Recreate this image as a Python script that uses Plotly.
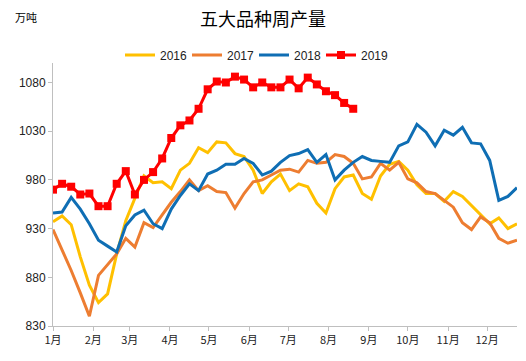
import plotly.graph_objects as go

weeks = list(range(52))
month_start_days = [0, 31, 59, 90, 120, 151, 181, 212, 243, 273, 304, 334]
month_labels = ["1月", "2月", "3月", "4月", "5月", "6月", "7月", "8月", "9月", "10月", "11月", "12月"]

y2016 = [937, 943, 934, 901, 872, 854, 863, 904, 938, 962, 984, 977, 978, 971,
         990, 997, 1013, 1008, 1019, 1018, 1007, 1004, 990, 966, 978, 986, 969,
         976, 973, 956, 946, 971, 983, 985, 966, 960, 984, 996, 999, 990, 975,
         966, 966, 958, 968, 963, 954, 944, 935, 941, 930, 935]
y2017 = [929, 908, 887, 864, 840, 882, 893, 904, 920, 911, 936, 931, 944, 957,
         968, 980, 969, 974, 968, 967, 951, 966, 978, 980, 985, 990, 991, 988,
         1000, 997, 998, 1006, 1004, 997, 981, 983, 997, 990, 998, 981, 977,
         968, 966, 959, 952, 936, 929, 942, 936, 920, 915, 918]
y2018 = [946, 947, 962, 950, 935, 918, 912, 906, 933, 944, 949, 935, 930, 950,
         964, 976, 969, 986, 990, 996, 996, 1002, 997, 985, 989, 998, 1005, 1007,
         1011, 998, 1006, 980, 990, 998, 1004, 1000, 999, 998, 1015, 1019, 1037,
         1029, 1015, 1031, 1026, 1034, 1018, 1017, 1000, 959, 963, 972]
y2019 = [970, 976, 973, 965, 966, 953, 953, 976, 989, 965, 980, 988, 1002, 1023,
         1036, 1041, 1053, 1073, 1081, 1080, 1086, 1083, 1075, 1080, 1075, 1075,
         1083, 1074, 1085, 1078, 1071, 1067, 1059, 1053]

fig = go.Figure()
fig.add_trace(go.Scatter(x=weeks, y=y2016, mode="lines", name="2016",
                         line=dict(color="#FFC000", width=3)))
fig.add_trace(go.Scatter(x=weeks, y=y2017, mode="lines", name="2017",
                         line=dict(color="#ED7D31", width=3)))
fig.add_trace(go.Scatter(x=weeks, y=y2018, mode="lines", name="2018",
                         line=dict(color="#0F6EB4", width=3)))
fig.add_trace(go.Scatter(x=weeks[:len(y2019)], y=y2019, mode="lines+markers", name="2019",
                         line=dict(color="#FF0000", width=3),
                         marker=dict(symbol="square", size=8, color="#FF0000")))

fig.update_layout(
    width=526, height=361,
    margin=dict(l=53, r=9, t=63, b=35, autoexpand=False),
    paper_bgcolor="white", plot_bgcolor="white",
    font=dict(family="Liberation Sans, Arial, sans-serif", size=12, color="#222"),
    title=dict(text="五大品种周产量", x=0.5, xanchor="center", y=1 - 20 / 361, yanchor="middle",
               font=dict(family="Noto Sans CJK SC", size=18, color="#000")),
    showlegend=True,
    legend=dict(orientation="h", xref="container", yref="container",
                x=120 / 526, xanchor="left", y=1 - 55 / 361, yanchor="middle",
                font=dict(size=12, color="#222"), itemwidth=30,
                entrywidth=22, entrywidthmode="pixels",
                bgcolor="rgba(0,0,0,0)"),
    annotations=[dict(text="万吨", xref="paper", yref="paper", x=-0.086, y=1.175,
                      xanchor="left", yanchor="middle", showarrow=False,
                      font=dict(family="Noto Sans CJK SC", size=11, color="#000"))],
)
fig.update_xaxes(
    range=[0, 51], tickvals=[d / 7 for d in month_start_days], ticktext=month_labels,
    showgrid=False, zeroline=False, showline=True, linecolor="#BFBFBF", linewidth=1,
    ticks="outside", ticklen=4, tickcolor="#BFBFBF", automargin=False,
    tickfont=dict(family="Noto Sans CJK SC", size=11, color="#222"),
)
fig.update_yaxes(
    range=[830, 1100], tick0=830, dtick=50,
    showgrid=False, zeroline=False, showline=True, linecolor="#BFBFBF", linewidth=1,
    ticks="outside", ticklen=4, tickcolor="#BFBFBF", automargin=False,
    tickfont=dict(size=12, color="#222"),
)

fig.write_html("out.html", config={"displayModeBar": False},
               post_script="document.body.style.margin='0';")
